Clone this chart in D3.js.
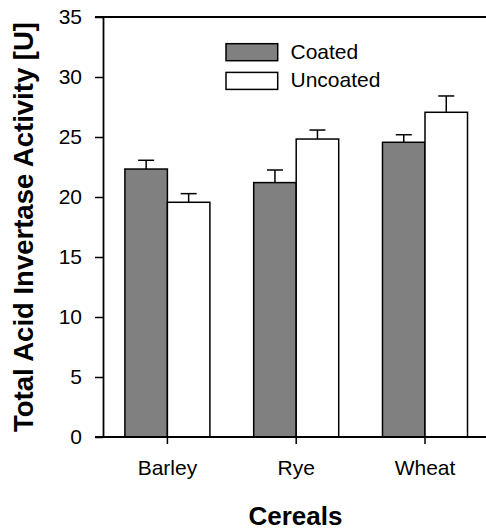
<!DOCTYPE html>
<html>
<head>
<meta charset="utf-8">
<script src="https://cdn.jsdelivr.net/npm/d3@7"></script>
<style>
  html, body { margin: 0; padding: 0; background: #fff; }
  svg { display: block; font-family: Arial, "Liberation Sans", sans-serif; }
</style>
</head>
<body>
<svg id="chart" width="486" height="532"></svg>
<script>
// Cereal categories and mean activity with upper error (SE) per coating
const categories = ["Barley", "Rye", "Wheat"];
const seriesNames = ["Coated", "Uncoated"];
const coatedValues = [22.33, 21.2, 24.56];
const coatedErrors = [0.73, 1.05, 0.63];
const uncoatedValues = [19.56, 24.83, 27.06];
const uncoatedErrors = [0.72, 0.75, 1.36];
const yTicks = [0, 5, 10, 15, 20, 25, 30, 35];

const seriesFill = { Coated: "#808080", Uncoated: "#ffffff" };

const rows = [];
categories.forEach((c, i) => {
  rows.push({ cat: c, series: "Coated", value: coatedValues[i], err: coatedErrors[i] });
  rows.push({ cat: c, series: "Uncoated", value: uncoatedValues[i], err: uncoatedErrors[i] });
});

const svg = d3.select("#chart");
const plotLeft = 103, plotTop = 17, plotBottom = 437, plotRight = 489.4;

const y = d3.scaleLinear().domain([0, 35]).range([plotBottom, plotTop]);
const x0 = d3.scaleBand().domain(categories).range([plotLeft, plotRight])
  .paddingInner(0.34).paddingOuter(0.17);
const x1 = d3.scaleBand().domain(seriesNames).range([0, x0.bandwidth()]);

// Bars
const bars = svg.append("g");
bars.selectAll("rect").data(rows).join("rect")
  .attr("x", d => x0(d.cat) + x1(d.series))
  .attr("y", d => y(d.value))
  .attr("width", x1.bandwidth())
  .attr("height", d => y(0) - y(d.value))
  .attr("fill", d => seriesFill[d.series])
  .attr("stroke", "#000")
  .attr("stroke-width", 1.5);

// Upper error bars
const capHalf = 8;
const eb = svg.append("g").attr("stroke", "#000").attr("stroke-width", 1.5);
rows.forEach(d => {
  const cx = x0(d.cat) + x1(d.series) + x1.bandwidth() / 2;
  eb.append("line").attr("x1", cx).attr("x2", cx)
    .attr("y1", y(d.value)).attr("y2", y(d.value + d.err));
  eb.append("line").attr("x1", cx - capHalf).attr("x2", cx + capHalf)
    .attr("y1", y(d.value + d.err)).attr("y2", y(d.value + d.err));
});

// Y axis
const yAxis = svg.append("g").attr("transform", `translate(${plotLeft},0)`)
  .call(d3.axisLeft(y).tickValues(yTicks).tickSize(8).tickPadding(13).tickSizeOuter(0));
yAxis.select(".domain").attr("stroke-width", 1.8);
yAxis.selectAll(".tick line").attr("stroke-width", 1.5);
yAxis.selectAll(".tick text").attr("font-size", 21).attr("fill", "#000")
  .attr("font-family", "Arial, 'Liberation Sans', sans-serif");

// X axis
const xAxis = svg.append("g").attr("transform", `translate(0,${plotBottom})`)
  .call(d3.axisBottom(x0).tickSize(7).tickPadding(16).tickSizeOuter(0));
xAxis.select(".domain").attr("stroke-width", 1.8)
  .attr("d", `M${plotLeft - 8},0H486`);
xAxis.selectAll(".tick line").attr("stroke-width", 1.5);
xAxis.selectAll(".tick text").attr("font-size", 21).attr("fill", "#000")
  .attr("font-family", "Arial, 'Liberation Sans', sans-serif");

// Top frame line
svg.append("line").attr("x1", plotLeft - 8).attr("x2", 486)
  .attr("y1", plotTop).attr("y2", plotTop)
  .attr("stroke", "#000").attr("stroke-width", 1.8);

// Legend
const legend = svg.append("g");
seriesNames.forEach((s, i) => {
  const ly = 43.7 + i * 28.7;
  legend.append("rect").attr("x", 226).attr("y", ly).attr("width", 51.7).attr("height", 17)
    .attr("fill", seriesFill[s]).attr("stroke", "#000").attr("stroke-width", 1.5);
  legend.append("text").attr("x", 290.5).attr("y", ly + 15)
    .attr("font-size", 21).text(s);
});

// Axis titles
svg.append("text").attr("x", 295.5).attr("y", 525)
  .attr("text-anchor", "middle").attr("font-size", 26).attr("font-weight", "bold")
  .text("Cereals");
svg.append("text")
  .attr("transform", `translate(32.5,${(plotTop + plotBottom) / 2}) rotate(-90)`)
  .attr("text-anchor", "middle").attr("font-size", 27.5).attr("font-weight", "bold")
  .text("Total Acid Invertase Activity [U]");
</script>
</body>
</html>
